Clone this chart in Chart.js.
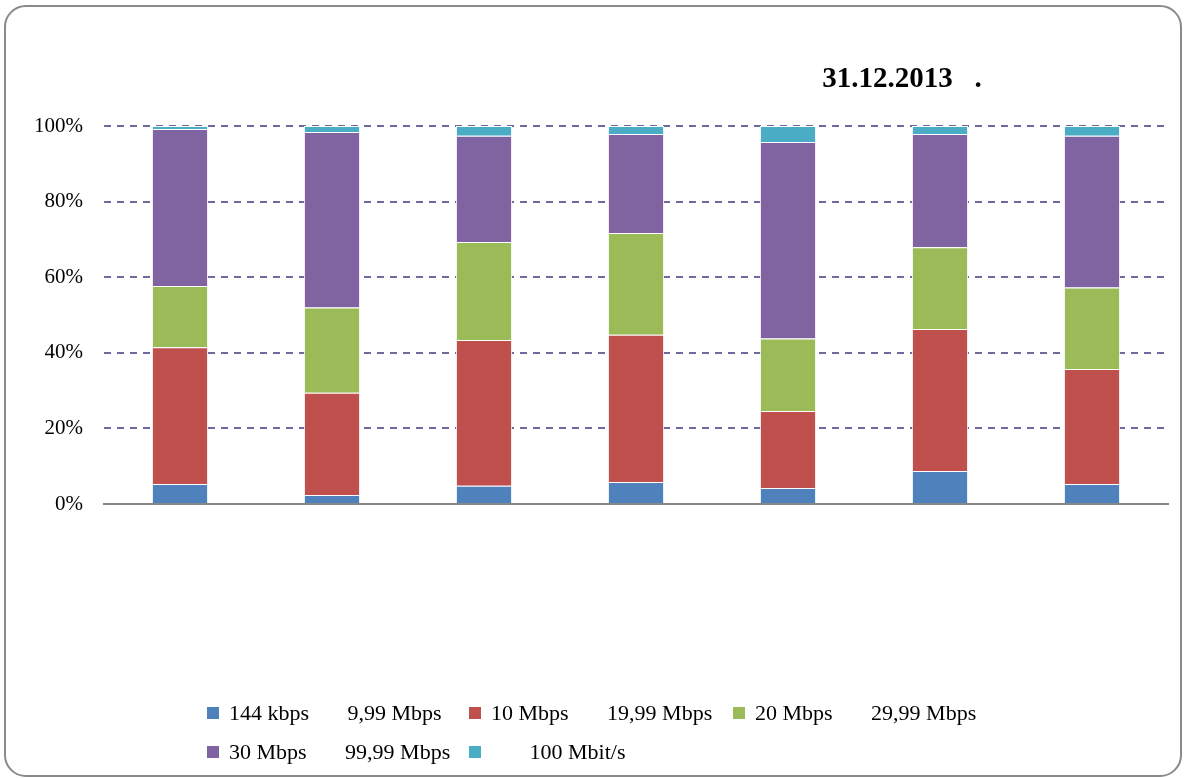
<!DOCTYPE html>
<html>
<head>
<meta charset="utf-8">
<script src="https://cdn.jsdelivr.net/npm/chart.js@4.4.0/dist/chart.umd.min.js"></script>
<style>
  body { margin: 0; background: #fff; }
  #wrap { position: relative; width: 1184px; height: 778px; }
  #frame {
    position: absolute; left: 4px; top: 5px; width: 1174px; height: 768px;
    border: 2px solid #8a8a8a; border-radius: 22px; pointer-events: none;
  }
  #title {
    position: absolute; left: 702px; width: 400px; top: 61px; text-align: center;
    font: bold 29px "Liberation Serif", serif; color: #000; white-space: pre;
  }
  #legend {
    position: absolute; left: 207px; top: 700px;
    display: grid; grid-template-columns: 262px 264px 264px; row-gap: 13px;
    font: 22px "Liberation Serif", serif; color: #000;
  }
  .item { display: flex; align-items: center; white-space: pre; height: 26px; }
  .box { width: 12px; height: 12px; margin-right: 10px; flex: none; }
</style>
</head>
<body>
<div id="wrap">
  <canvas id="myChart" width="1184" height="778"></canvas>
  <div id="title"></div>
  <div id="legend"></div>
  <div id="frame"></div>
</div>
<script>
// DATA
const titleText = '31.12.2013   .';
const categories = ['', '', '', '', '', '', ''];
const seriesNames = ['144 kbps       9,99 Mbps', '10 Mbps       19,99 Mbps', '20 Mbps       29,99 Mbps', '30 Mbps       99,99 Mbps', '       100 Mbit/s'];
const seriesColors = ['#4f81bd', '#c0504d', '#9bbb59', '#8064a2', '#4bacc6'];
const s144k = [5.3, 2.4, 4.8, 5.8, 4.2, 8.7, 5.3];
const s10M = [36.2, 27.0, 38.6, 39.0, 20.4, 37.6, 30.4];
const s20M = [16.2, 22.6, 25.9, 26.9, 19.2, 21.6, 21.6];
const s30M = [41.5, 46.4, 28.1, 26.2, 52.0, 30.0, 40.1];
const s100M = [0.8, 1.6, 2.6, 2.1, 4.2, 2.1, 2.6];
const allSeries = [s144k, s10M, s20M, s30M, s100M];
const yTicks = [0, 20, 40, 60, 80, 100];

// TITLE + LEGEND
document.getElementById('title').textContent = titleText;
let legend = document.getElementById('legend');
seriesNames.forEach((name, i) => {
  let item = document.createElement('div');
  item.className = 'item';
  let box = document.createElement('span');
  box.className = 'box';
  box.style.background = seriesColors[i];
  item.appendChild(box);
  item.appendChild(document.createTextNode(name));
  legend.appendChild(item);
});

// CHART
const data = {
  labels: categories,
  datasets: allSeries.map((values, i) => ({
    label: seriesNames[i],
    data: values,
    backgroundColor: seriesColors[i],
    borderColor: '#ffffff',
    borderWidth: 1,
    barPercentage: 0.37,
    categoryPercentage: 1
  }))
};

const config = {
  type: 'bar',
  data: data,
  options: {
    responsive: false,
    animation: false,
    layout: { padding: { left: 0, right: 16, top: 126, bottom: 274 } },
    plugins: {
      legend: { display: false },
      title: { display: false },
      tooltip: { enabled: false }
    },
    scales: {
      x: {
        stacked: true,
        grid: { display: false },
        ticks: { display: false },
        border: { display: true, color: '#868686', width: 2 },
        afterFit: s => { s.height = 0; }
      },
      y: {
        stacked: true,
        min: 0,
        max: 100,
        afterBuildTicks: s => { s.ticks = yTicks.map(v => ({ value: v })); },
        afterFit: s => { s.width = 104; },
        grid: {
          drawTicks: false,
          color: c => c.tick && c.tick.value === 0 ? 'rgba(0,0,0,0)' : '#6e6a9e',
          lineWidth: 2
        },
        // dash here is used for the grid lines
        border: { display: false, dash: [7, 6] },
        ticks: {
          padding: 21,
          color: '#000',
          font: { family: 'Liberation Serif', size: 21 },
          callback: v => v + '%'
        }
      }
    }
  }
};
const myChart = new Chart(document.getElementById('myChart'), config);
</script>
</body>
</html>
